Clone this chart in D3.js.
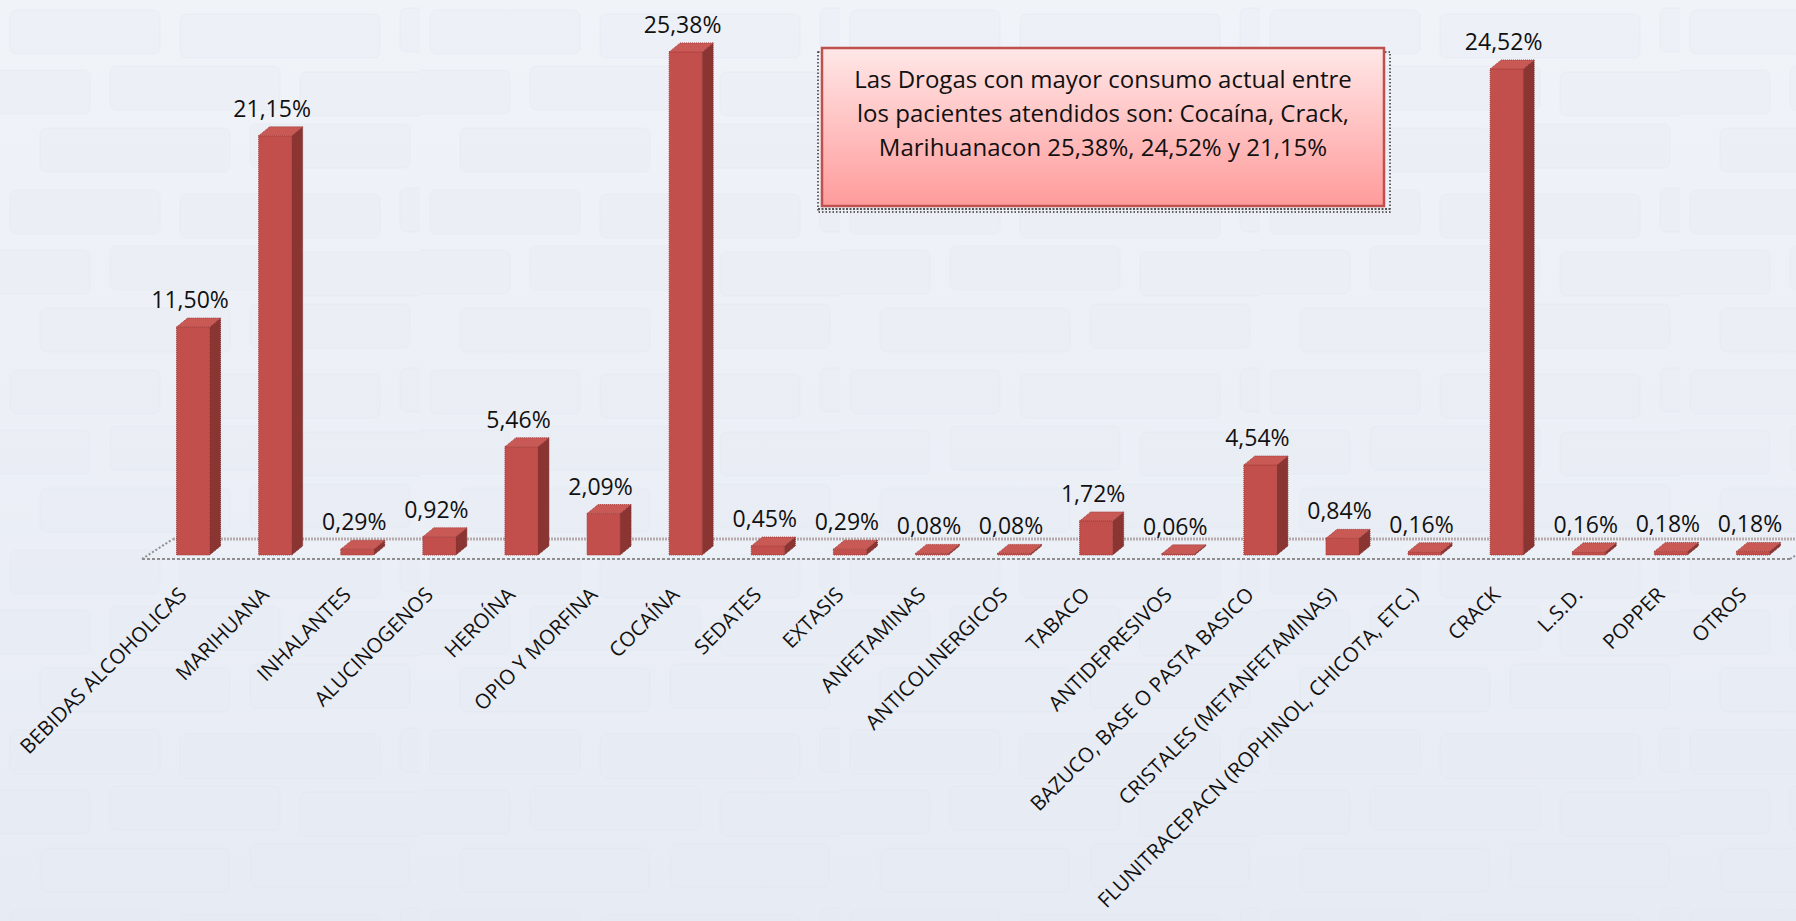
<!DOCTYPE html>
<html>
<head>
<meta charset="utf-8">
<script src="https://cdn.jsdelivr.net/npm/d3@7"></script>
<style>
  html, body { margin: 0; padding: 0; background: #ebeff6; }
  svg { display: block; }
</style>
</head>
<body>
<svg id="chart" width="1796" height="921"></svg>
<script>
// data
var categories = [
  "BEBIDAS ALCOHOLICAS", "MARIHUANA", "INHALANTES", "ALUCINOGENOS", "HEROÍNA",
  "OPIO Y MORFINA", "COCAÍNA", "SEDATES", "EXTASIS", "ANFETAMINAS",
  "ANTICOLINERGICOS", "TABACO", "ANTIDEPRESIVOS", "BAZUCO, BASE O PASTA BASICO",
  "CRISTALES (METANFETAMINAS)", "FLUNITRACEPACN (ROPHINOL, CHICOTA, ETC.)",
  "CRACK", "L.S.D.", "POPPER", "OTROS"
];
var values = [11.50, 21.15, 0.29, 0.92, 5.46, 2.09, 25.38, 0.45, 0.29, 0.08,
              0.08, 1.72, 0.06, 4.54, 0.84, 0.16, 24.52, 0.16, 0.18, 0.18];
var noteLines = [
  "Las Drogas con mayor consumo actual entre",
  "los pacientes atendidos son: Cocaína, Crack,",
  "Marihuanacon 25,38%, 24,52% y 21,15%"
];

var W = 1796, H = 921,
    barW = 33,   // front face width
    dx = 11,     // 3d depth x
    dy = 9;      // 3d depth y

var svg = d3.select('#chart');
var defs = svg.append('defs');

// background
var bg = defs.append('linearGradient').attr('id', 'bg')
  .attr('x1', 0).attr('y1', 0).attr('x2', 0).attr('y2', 1);
bg.append('stop').attr('offset', '0%').attr('stop-color', '#f0f3f8');
bg.append('stop').attr('offset', '100%').attr('stop-color', '#e7ebf4');

var pat = defs.append('pattern').attr('id', 'bricks')
  .attr('patternUnits', 'userSpaceOnUse')
  .attr('width', 420).attr('height', 180);
[[10, 10, 150], [180, 14, 200], [400, 8, 120], [-20, 70, 110], [110, 66, 170],
 [300, 72, 140], [40, 128, 190], [250, 124, 160]].forEach(function(b) {
  pat.append('rect')
    .attr('x', b[0]).attr('y', b[1]).attr('width', b[2]).attr('height', 44)
    .attr('rx', 6)
    .attr('fill', '#e2e7ef').attr('fill-opacity', 0.25)
    .attr('stroke', '#dfe4ec').attr('stroke-opacity', 0.35);
});

svg.append('rect').attr('width', W).attr('height', H).attr('fill', 'url(#bg)');
svg.append('rect').attr('width', W).attr('height', H).attr('fill', 'url(#bricks)');

// scales
var x = d3.scaleBand().domain(categories).range([152, 1794]);
var y = d3.scaleLinear().domain([0, 28]).range([555, 0]);
var base = y(0);

var fmt = d3.formatLocale({ decimal: ',', thousands: '.', grouping: [3], currency: ['', ''] })
  .format('.2f');

// floor
var r0 = x.range()[0], r1 = x.range()[1];
var floor = svg.append('g');
floor.append('path')
  .attr('d', 'M' + (r0 - 10) + ',559 L' + (r0 + 21) + ',539 L' + (r1 + 27) + ',539 L' + (r1 - 4) + ',559 Z')
  .attr('fill', '#eef1f7').attr('fill-opacity', 0.5)
  .attr('stroke', 'none');
floor.append('line')
  .attr('x1', r0 + 21).attr('y1', 539).attr('x2', r1 + 27).attr('y2', 539)
  .attr('stroke', '#b7abad').attr('stroke-width', 3).attr('stroke-dasharray', '2,1');
floor.append('line')
  .attr('x1', r0 - 10).attr('y1', 559).attr('x2', r1 - 4).attr('y2', 559)
  .attr('stroke', '#8e8e8e').attr('stroke-width', 2).attr('stroke-dasharray', '3,2');
floor.append('line')
  .attr('x1', r0 - 10).attr('y1', 559).attr('x2', r0 + 21).attr('y2', 539)
  .attr('stroke', '#8e8e8e').attr('stroke-width', 2).attr('stroke-dasharray', '2,2');
floor.append('line')
  .attr('x1', r1 - 4).attr('y1', 559).attr('x2', r1 + 27).attr('y2', 539)
  .attr('stroke', '#8e8e8e').attr('stroke-width', 2).attr('stroke-dasharray', '2,2');

// bars
var data = categories.map(function(c, i) { return { cat: c, v: values[i] }; });

var bars = svg.append('g').selectAll('g')
  .data(data)
  .enter()
  .append('g');

function left(d) { return x(d.cat) + x.bandwidth() / 2 - barW / 2; }

bars.append('polygon')
  .attr('points', function(d) {
    var l = left(d) + barW, t = y(d.v);
    return [[l, t], [l + dx, t - dy], [l + dx, base - dy], [l, base]].join(' ');
  })
  .attr('fill', '#8b3533')
  .attr('stroke', '#7a2c2a').attr('stroke-width', 1).attr('stroke-dasharray', '1,1');

bars.append('rect')
  .attr('x', left)
  .attr('y', function(d) { return y(d.v); })
  .attr('width', barW)
  .attr('height', function(d) { return base - y(d.v); })
  .attr('fill', '#c24f4b')
  .attr('stroke', '#a33f3c').attr('stroke-width', 1).attr('stroke-dasharray', '1,1');

bars.append('polygon')
  .attr('points', function(d) {
    var l = left(d), t = y(d.v);
    return [[l, t], [l + dx, t - dy], [l + barW + dx, t - dy], [l + barW, t]].join(' ');
  })
  .attr('fill', '#c85955')
  .attr('stroke', '#a33f3c').attr('stroke-width', 1).attr('stroke-dasharray', '1,1');

// value labels
bars.append('text')
  .attr('x', function(d) { return x(d.cat) + x.bandwidth() / 2 - 3; })
  .attr('y', function(d) { return y(d.v) - 19; })
  .attr('text-anchor', 'middle')
  .attr('font-family', 'Open Sans, sans-serif')
  .attr('font-size', 23)
  .attr('fill', '#111')
  .text(function(d) { return fmt(d.v) + '%'; });

// category labels
svg.append('g').selectAll('text')
  .data(categories)
  .enter()
  .append('text')
  .attr('transform', function(c) {
    return 'translate(' + (x(c) + x.bandwidth() / 2 - 5) + ',596) rotate(-45)';
  })
  .attr('text-anchor', 'end')
  .attr('font-family', 'Open Sans, sans-serif')
  .attr('font-size', 20.5)
  .attr('fill', '#111')
  .text(function(c) { return c; });

// note box
var note = svg.append('g');
var ng = defs.append('linearGradient').attr('id', 'notefill')
  .attr('x1', 0).attr('y1', 0).attr('x2', 0).attr('y2', 1);
ng.append('stop').attr('offset', '0%').attr('stop-color', '#ffe7e7');
ng.append('stop').attr('offset', '100%').attr('stop-color', '#ff9b9b');

note.append('rect')
  .attr('x', 818).attr('y', 52).attr('width', 572).attr('height', 160)
  .attr('fill', 'none').attr('stroke', '#333').attr('stroke-width', 1.5)
  .attr('stroke-dasharray', '1.5,2');
note.append('line')
  .attr('x1', 818).attr('y1', 209).attr('x2', 1390).attr('y2', 209)
  .attr('stroke', '#555').attr('stroke-width', 2).attr('stroke-dasharray', '2,1.5');
note.append('rect')
  .attr('x', 822).attr('y', 48).attr('width', 562).attr('height', 158)
  .attr('fill', 'url(#notefill)').attr('stroke', '#c0504d').attr('stroke-width', 2.5);
note.selectAll('text')
  .data(noteLines)
  .enter()
  .append('text')
  .attr('x', 1103)
  .attr('y', function(d, i) { return 88 + i * 34; })
  .attr('text-anchor', 'middle')
  .attr('font-family', 'Open Sans, sans-serif')
  .attr('font-size', 24)
  .attr('fill', '#111')
  .text(function(d) { return d; });
</script>
</body>
</html>
